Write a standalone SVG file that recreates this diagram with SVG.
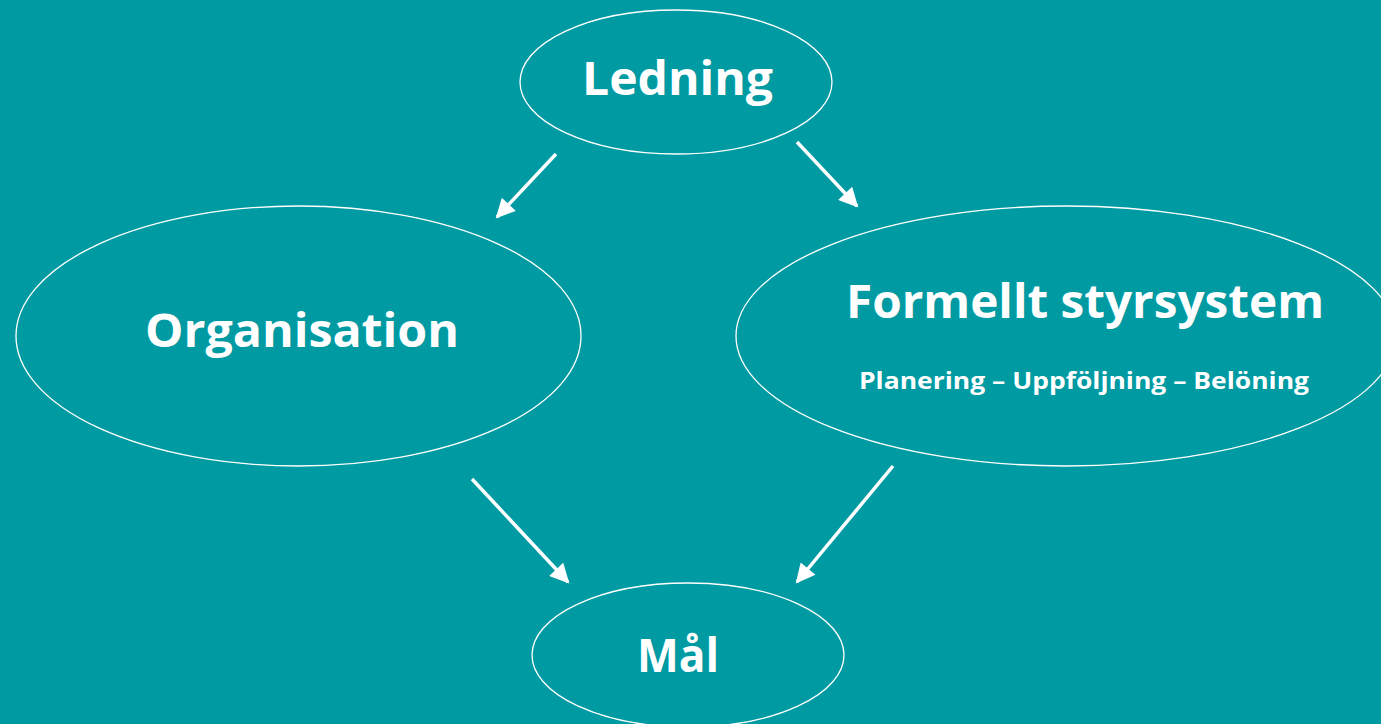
<svg xmlns="http://www.w3.org/2000/svg" width="1381" height="724" viewBox="0 0 1381 724">
<defs>
<style>
.node{fill:none;stroke:#ffffff;stroke-width:1.3}
.t{fill:#ffffff;font-family:"Open Sans","DejaVu Sans",sans-serif;font-weight:700;text-anchor:middle}
.big{font-size:46px}
.small{font-size:23px}
.conn line{stroke:#ffffff;stroke-width:3.5}
</style>
<marker id="ah" viewBox="0 0 10 10" refX="9" refY="5" markerWidth="6" markerHeight="5.5" markerUnits="strokeWidth" orient="auto">
<path d="M0,0 L10,5 L0,10 Z" fill="#ffffff"/>
</marker>
</defs>
<rect width="1381" height="724" fill="#009AA3"/>
<g id="ledning">
<ellipse class="node" cx="676" cy="82" rx="156" ry="72"/>
<text class="t big" x="677.5" y="95" textLength="191" lengthAdjust="spacingAndGlyphs">Ledning</text>
</g>
<g id="organisation">
<ellipse class="node" cx="298.5" cy="336" rx="282.5" ry="130"/>
<text class="t big" x="302" y="347" textLength="314" lengthAdjust="spacingAndGlyphs">Organisation</text>
</g>
<g id="formellt">
<ellipse class="node" cx="1066" cy="336" rx="330" ry="130"/>
<text class="t big" x="1085" y="318" textLength="478" lengthAdjust="spacingAndGlyphs">Formellt styrsystem</text>
<text class="t small" x="1084" y="389" textLength="450" lengthAdjust="spacingAndGlyphs">Planering – Uppföljning – Belöning</text>
</g>
<g id="mal">
<ellipse class="node" cx="688" cy="655" rx="156" ry="72"/>
<text class="t big" x="678" y="672" textLength="82" lengthAdjust="spacingAndGlyphs">Mål</text>
</g>
<g class="conn">
<line x1="556" y1="154" x2="497" y2="217" marker-end="url(#ah)"/>
<line x1="797" y1="142" x2="857" y2="206" marker-end="url(#ah)"/>
<line x1="472" y1="479" x2="568" y2="582" marker-end="url(#ah)"/>
<line x1="893" y1="466" x2="797" y2="582" marker-end="url(#ah)"/>
</g>
</svg>
